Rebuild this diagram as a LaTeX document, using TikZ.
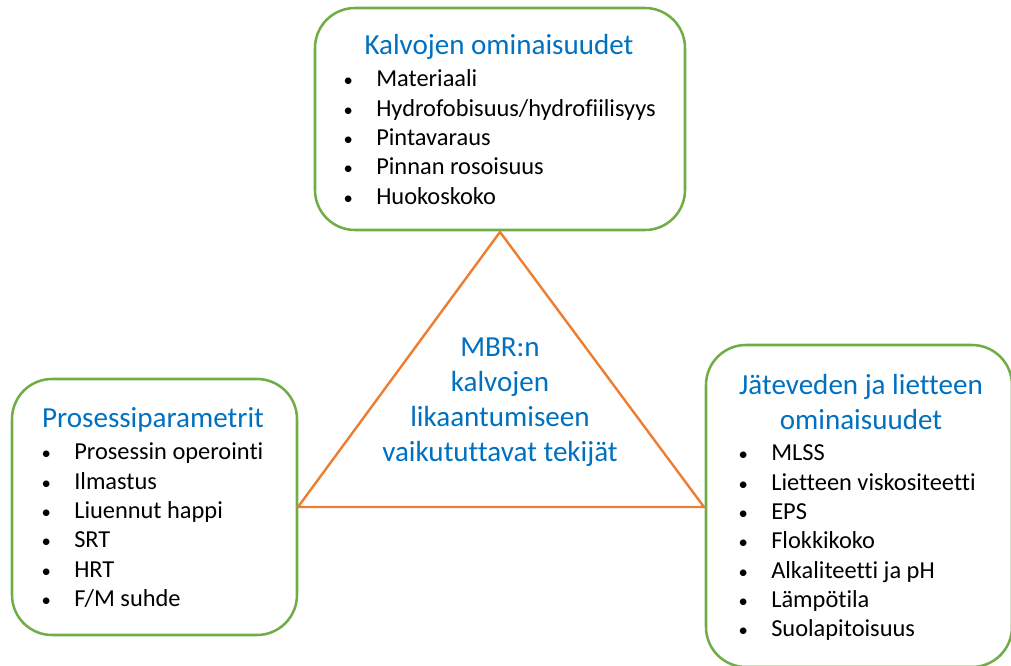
\documentclass[tikz,border=0pt]{standalone}
\usepackage{fontspec}
\setmainfont[Ligatures={NoCommon}]{Carlito}
\definecolor{boxgreen}{RGB}{112,173,71}
\definecolor{triorange}{RGB}{237,125,49}
\definecolor{titleblue}{RGB}{0,112,192}
\tikzset{
  factorbox/.style={draw=boxgreen, line width=1.9pt, rounded corners=30pt},
  boxtitle/.style={anchor=base, text=titleblue, inner sep=0pt, font=\fontsize{21.8}{26.25}\selectfont, align=center},
  boxlist/.style={anchor=base west, inner sep=0pt, font=\fontsize{18.3}{22}\selectfont},
  tri/.style={draw=triorange, line width=1.8pt, line join=miter},
}
\newcommand{\bl}{\makebox[12pt]{\fontsize{14}{14}\selectfont\textbullet}}
\begin{document}
\begin{tikzpicture}[x=0.75pt,y=-0.75pt]
\useasboundingbox (0,0) rectangle (1011,666);
\begin{scope}
\clip (0,0) rectangle (1011,666);
% boxes
\draw[factorbox] (315,8) rectangle (685,230);
\draw[factorbox] (12,379) rectangle (297,635);
\draw[factorbox] (706,345) rectangle (1012,667);
\end{scope}
% triangle
\coordinate (apex) at (500,232);
\coordinate (bl) at (298,507);
\coordinate (br) at (704,507);
\draw[tri] (apex) -- (bl) -- (br) -- cycle;
% top box
\node[boxtitle] (ttitle) at (499,55) {Kalvojen ominaisuudet};
\node[boxlist] (tlist) at (340,87) {\begin{tabular}[t]{@{}c@{\hspace{15pt}}l@{}}
\bl & Materiaali\\
\bl & Hydrofobisuus/hydrofiilisyys\\
\bl & Pintavaraus\\
\bl & Pinnan rosoisuus\\
\bl & Huokoskoko
\end{tabular}};
% left box
\node[boxtitle] (ltitle) at (153,428) {Prosessiparametrit};
\node[boxlist] (llist) at (38,460) {\begin{tabular}[t]{@{}c@{\hspace{15pt}}l@{}}
\bl & Prosessin operointi\\
\bl & Ilmastus\\
\bl & Liuennut happi\\
\bl & SRT\\
\bl & HRT\\
\bl & F/M suhde
\end{tabular}};
% right box
\node[boxtitle] (rtitle) at (861,430) {Jäteveden ja lietteen\\ominaisuudet};
\node[boxlist] (rlist) at (735,461) {\begin{tabular}[t]{@{}c@{\hspace{15pt}}l@{}}
\bl & MLSS\\
\bl & Lietteen viskositeetti\\
\bl & EPS\\
\bl & Flokkikoko\\
\bl & Alkaliteetti ja pH\\
\bl & Lämpötila\\
\bl & Suolapitoisuus
\end{tabular}};
% center
\node[boxtitle] (center) at (500,462) {MBR:n\\kalvojen\\likaantumiseen\\vaikututtavat tekijät};
\end{tikzpicture}
\end{document}
